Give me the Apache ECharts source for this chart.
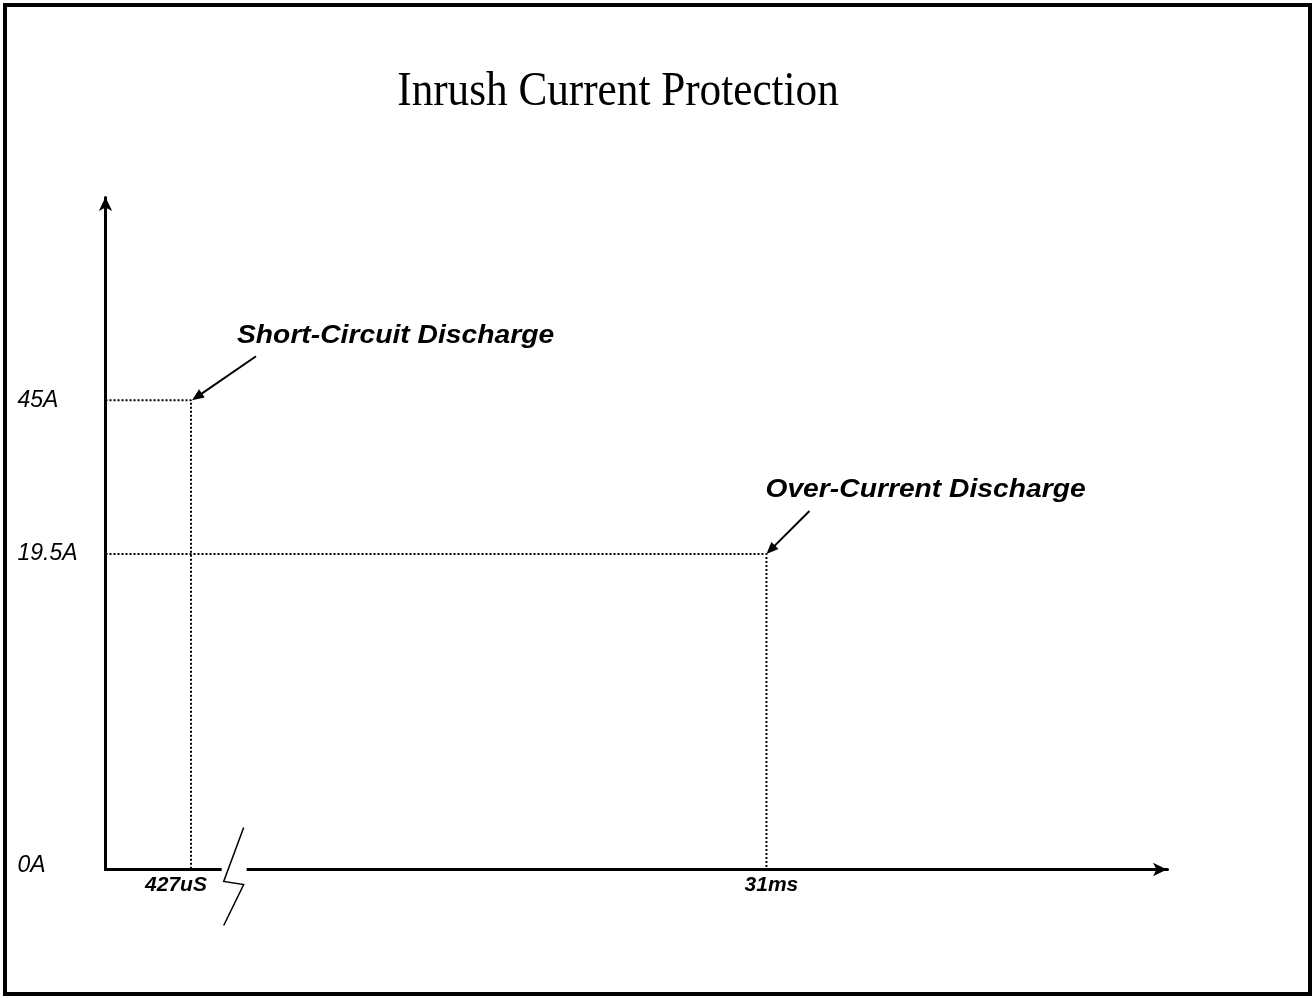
<!DOCTYPE html>
<html><head><meta charset="utf-8">
<script src="https://cdn.jsdelivr.net/npm/echarts@6/dist/echarts.min.js"></script>
<style>html,body{margin:0;padding:0;background:#fff}#c{width:1315px;height:998px}</style>
</head><body><div id="c"></div>
<script>
// ---- data ----
const chartTitle = 'Inrush Current Protection';
const yTickValues = [0, 19.5, 45];            // A
const yTickLabels = ['0A', '19.5A', '45A'];
const xTickValues = [0.427, 31];              // ms
const xTickLabels = ['427uS', '31ms'];
const shortCircuitPoint = [0.427, 45];        // [ms, A]
const overCurrentPoint = [31, 19.5];          // [ms, A]
const annotationTexts = ['Short-Circuit Discharge', 'Over-Current Discharge'];

// ---- chart ----
const SANS = '"Liberation Sans", Arial, sans-serif';
const SERIF = '"Liberation Serif", "Times New Roman", serif';
const chart = echarts.init(document.getElementById('c'), null, {renderer: 'canvas'});

function idxOf(arr, v) {
  for (let i = 0; i < arr.length; i++) if (Math.abs(arr[i] - v) < 1e-6) return i;
  return -1;
}

const xBreak = {start: 0.64, end: 28.34, gap: 0};
const yBreak = {start: 22, end: 38, gap: 0};
const xLabelFont = {color: '#000', fontFamily: SANS, fontSize: 21, fontStyle: 'italic', fontWeight: 'bold'};
const yLabelFont = {color: '#000', fontFamily: SANS, fontSize: 23, fontStyle: 'italic'};

chart.setOption({
  animation: false,
  backgroundColor: '#fff',
  grid: {left: 105.5, right: 148, top: 197, bottom: 128.5, containLabel: false},
  xAxis: {
    type: 'value', min: 0, max: 33.0,
    breaks: [xBreak],
    breakArea: {show: false},
    splitLine: {show: false},
    axisTick: {show: false},
    axisLine: {show: true, onZero: false, symbol: ['none', 'arrow'], symbolSize: [10, 14],
      lineStyle: {color: '#000', width: 3}},
    axisLabel: Object.assign({
      customValues: xTickValues,
      margin: 5,
      formatter: function (v) {
        const i = idxOf(xTickValues, v);
        return i < 0 ? '' : '{l' + i + '|' + xTickLabels[i] + '}';
      },
      rich: {
        l0: Object.assign({padding: [0, 30, 0, 0]}, xLabelFont),
        l1: Object.assign({padding: [0, 0, 0, 10]}, xLabelFont)
      }
    }, xLabelFont)
  },
  yAxis: {
    type: 'value', min: 0, max: 57.56,
    breaks: [yBreak],
    breakArea: {show: false},
    splitLine: {show: false},
    axisTick: {show: false},
    axisLine: {show: true, onZero: false, symbol: ['none', 'arrow'], symbolSize: [10, 14],
      lineStyle: {color: '#000', width: 3}},
    axisLabel: Object.assign({
      customValues: yTickValues,
      margin: 88, align: 'left',
      formatter: function (v) {
        const i = idxOf(yTickValues, v);
        if (i < 0) return '';
        return (i === 0 ? '{z|' : '{n|') + yTickLabels[i] + '}';
      },
      rich: {
        z: Object.assign({padding: [0, 0, 8, 0]}, yLabelFont),
        n: Object.assign({}, yLabelFont)
      }
    }, yLabelFont)
  },
  series: [
    {
      type: 'line', silent: true, symbol: 'none', z: 1,
      lineStyle: {type: [2, 2], width: 2, color: '#000'},
      data: [[0, shortCircuitPoint[1]], shortCircuitPoint, [shortCircuitPoint[0], 0]]
    },
    {
      type: 'line', silent: true, symbol: 'none', z: 1,
      lineStyle: {type: [2, 2], width: 2, color: '#000'},
      data: [[0, overCurrentPoint[1]], overCurrentPoint, [overCurrentPoint[0], 0]]
    }
  ]
});

function arrow(tail, tip) {
  const dx = tip[0] - tail[0], dy = tip[1] - tail[1];
  const len = Math.sqrt(dx * dx + dy * dy);
  const ux = dx / len, uy = dy / len;
  const hl = 12, hw = 5;
  const bx = tip[0] - ux * hl, by = tip[1] - uy * hl;
  return [
    {type: 'line', silent: true, z: 10,
      shape: {x1: tail[0], y1: tail[1], x2: bx + ux * 2, y2: by + uy * 2},
      style: {stroke: '#000', lineWidth: 2}},
    {type: 'polygon', silent: true, z: 10,
      shape: {points: [[tip[0], tip[1]], [bx - uy * hw, by + ux * hw], [bx + uy * hw, by - ux * hw]]},
      style: {fill: '#000'}}
  ];
}

function annText(txt, x, y) {
  return {type: 'text', silent: true, z: 10, x: x, y: y, scaleX: 1.13,
    style: {text: txt, x: 0, y: 0, align: 'left', verticalAlign: 'middle',
      fill: '#000', font: 'italic bold 25px ' + SANS}};
}

const p1 = chart.convertToPixel({gridIndex: 0}, shortCircuitPoint);
const p2 = chart.convertToPixel({gridIndex: 0}, overCurrentPoint);
const bx = chart.convertToPixel({xAxisIndex: 0}, xBreak.start);
const y0 = chart.convertToPixel({yAxisIndex: 0}, 0);

const g = [];
// frame
g.push({type: 'rect', silent: true, z: 20, shape: {x: 5, y: 5, width: 1305, height: 989},
  style: {fill: 'none', stroke: '#000', lineWidth: 4}});
// title
g.push({type: 'text', silent: true, z: 10, x: 618, y: 92, scaleX: 0.9,
  style: {text: chartTitle, x: 0, y: 0, align: 'center', verticalAlign: 'middle',
    fill: '#000', font: '48px ' + SERIF}});
// axis break symbol
g.push({type: 'rect', silent: true, z: 15, shape: {x: bx - 12, y: y0 - 4, width: 25, height: 8},
  style: {fill: '#fff'}});
g.push({type: 'polyline', silent: true, z: 16,
  shape: {points: [[bx + 10, y0 - 42], [bx - 10, y0 + 12], [bx + 10, y0 + 15], [bx - 10, y0 + 56]]},
  style: {stroke: '#000', lineWidth: 1.5, fill: null}});
// annotations
g.push(annText(annotationTexts[0], p1[0] + 46, p1[1] - 64));
arrow([p1[0] + 65, p1[1] - 44], [p1[0] + 1, p1[1]]).forEach(e => g.push(e));
g.push(annText(annotationTexts[1], p2[0] - 1, p2[1] - 64));
arrow([p2[0] + 43, p2[1] - 43], [p2[0], p2[1]]).forEach(e => g.push(e));

chart.setOption({graphic: g});
</script></body></html>
